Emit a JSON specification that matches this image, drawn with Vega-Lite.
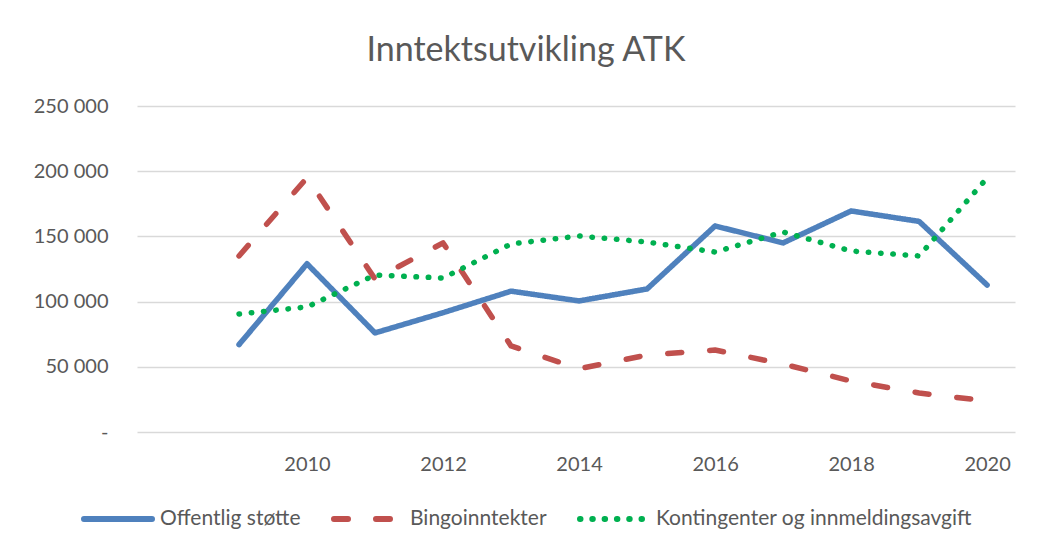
{
  "$schema": "https://vega.github.io/schema/vega-lite/v6.json",
  "autosize": "none",
  "width": 878,
  "height": 326,
  "padding": {"left": 137, "top": 106, "right": 23, "bottom": 119},
  "background": "white",
  "title": {
    "text": "Inntektsutvikling ATK",
    "font": "Lato",
    "fontSize": 34,
    "fontWeight": "normal",
    "color": "#595959",
    "anchor": "middle",
    "dx": -50,
    "offset": 28
  },
  "config": {
    "view": {"stroke": null},
    "font": "Lato"
  },
  "data": {
    "values": [
      {"year": 2009, "series": "Offentlig støtte", "value": 67000},
      {"year": 2010, "series": "Offentlig støtte", "value": 129000},
      {"year": 2011, "series": "Offentlig støtte", "value": 76000},
      {"year": 2012, "series": "Offentlig støtte", "value": 91500},
      {"year": 2013, "series": "Offentlig støtte", "value": 108000},
      {"year": 2014, "series": "Offentlig støtte", "value": 100500},
      {"year": 2015, "series": "Offentlig støtte", "value": 109700},
      {"year": 2016, "series": "Offentlig støtte", "value": 158000},
      {"year": 2017, "series": "Offentlig støtte", "value": 145000},
      {"year": 2018, "series": "Offentlig støtte", "value": 169500},
      {"year": 2019, "series": "Offentlig støtte", "value": 161500},
      {"year": 2020, "series": "Offentlig støtte", "value": 112700},
      {"year": 2009, "series": "Bingoinntekter", "value": 135000},
      {"year": 2010, "series": "Bingoinntekter", "value": 195000},
      {"year": 2011, "series": "Bingoinntekter", "value": 117300},
      {"year": 2012, "series": "Bingoinntekter", "value": 145000},
      {"year": 2013, "series": "Bingoinntekter", "value": 66000},
      {"year": 2014, "series": "Bingoinntekter", "value": 48500},
      {"year": 2015, "series": "Bingoinntekter", "value": 59000},
      {"year": 2016, "series": "Bingoinntekter", "value": 62900},
      {"year": 2017, "series": "Bingoinntekter", "value": 52100},
      {"year": 2018, "series": "Bingoinntekter", "value": 39100},
      {"year": 2019, "series": "Bingoinntekter", "value": 29900},
      {"year": 2020, "series": "Bingoinntekter", "value": 23800},
      {"year": 2009, "series": "Kontingenter og innmeldingsavgift", "value": 90500},
      {"year": 2010, "series": "Kontingenter og innmeldingsavgift", "value": 95900},
      {"year": 2011, "series": "Kontingenter og innmeldingsavgift", "value": 120400},
      {"year": 2012, "series": "Kontingenter og innmeldingsavgift", "value": 118100},
      {"year": 2013, "series": "Kontingenter og innmeldingsavgift", "value": 144200},
      {"year": 2014, "series": "Kontingenter og innmeldingsavgift", "value": 150300},
      {"year": 2015, "series": "Kontingenter og innmeldingsavgift", "value": 145700},
      {"year": 2016, "series": "Kontingenter og innmeldingsavgift", "value": 138000},
      {"year": 2017, "series": "Kontingenter og innmeldingsavgift", "value": 153400},
      {"year": 2018, "series": "Kontingenter og innmeldingsavgift", "value": 138800},
      {"year": 2019, "series": "Kontingenter og innmeldingsavgift", "value": 135000},
      {"year": 2020, "series": "Kontingenter og innmeldingsavgift", "value": 194800}
    ]
  },
  "mark": {"type": "line", "strokeWidth": 5.5, "strokeCap": "round", "strokeJoin": "round"},
  "encoding": {
    "x": {
      "field": "year",
      "type": "quantitative",
      "scale": {"domain": [2007.5, 2020.41], "nice": false, "zero": false},
      "axis": {
        "title": null,
        "values": [2010, 2012, 2014, 2016, 2018, 2020],
        "format": "d",
        "grid": false,
        "domain": false,
        "ticks": false,
        "labelFont": "Lato",
        "labelFontSize": 20,
        "labelColor": "#595959",
        "labelPadding": 22,
        "labelFlush": false
      }
    },
    "y": {
      "field": "value",
      "type": "quantitative",
      "scale": {"domain": [0, 250000], "nice": false},
      "axis": {
        "title": null,
        "values": [0, 50000, 100000, 150000, 200000, 250000],
        "labelExpr": "datum.value == 0 ? '-\u00a0\u00a0' : format(datum.value / 1000, 'd') + ' 000'",
        "grid": true,
        "gridColor": "#d9d9d9",
        "gridWidth": 1.5,
        "domain": false,
        "ticks": false,
        "labelFont": "Lato",
        "labelFontSize": 20,
        "labelColor": "#595959",
        "labelPadding": 29
      }
    },
    "color": {
      "field": "series",
      "type": "nominal",
      "scale": {
        "domain": ["Offentlig støtte", "Bingoinntekter", "Kontingenter og innmeldingsavgift"],
        "range": ["#4f81bd", "#c0504d", "#00b050"]
      },
      "legend": {
        "title": null,
        "orient": "none",
        "direction": "horizontal",
        "legendX": -56,
        "legendY": 376,
        "symbolType": "stroke",
        "symbolSize": 4624,
        "symbolStrokeWidth": 6,
        "labelFont": "Lato",
        "labelFontSize": 21,
        "labelColor": "#595959",
        "labelOffset": 5,
        "columnPadding": 21,
        "labelLimit": 500,
        "encode": {
          "symbols": {
            "update": {"strokeCap": {"value": "round"}}
          }
        }
      }
    },
    "strokeDash": {
      "field": "series",
      "type": "nominal",
      "scale": {
        "domain": ["Offentlig støtte", "Bingoinntekter", "Kontingenter og innmeldingsavgift"],
        "range": [[1, 0], [14, 28], [0.5, 11.8]]
      },
      "legend": null
    }
  }
}
